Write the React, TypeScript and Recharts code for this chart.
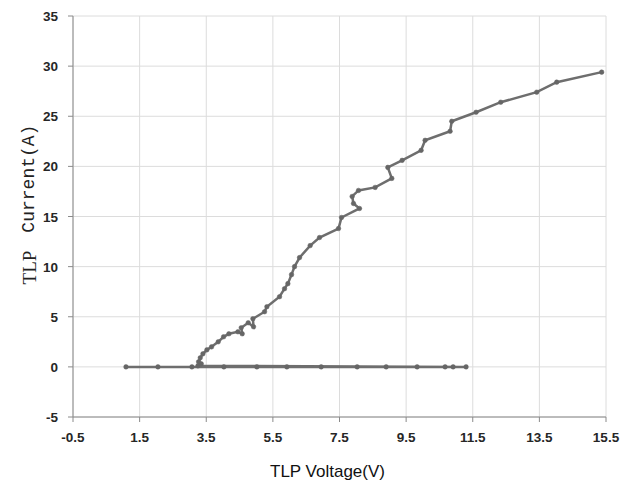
import { CartesianGrid, Line, LineChart, XAxis, YAxis, Label } from 'recharts'

// TLP sweep: off-state leakage points, then the snapback branch climbing up
const voltage = [
  1.09, 2.05, 3.07, 4.03, 5.02, 5.92, 6.95, 8.03, 8.9, 9.83, 10.67, 10.91, 11.3,
  3.25, 3.35, 3.27, 3.32, 3.4, 3.52, 3.66, 3.86, 4.02, 4.18, 4.45, 4.58, 4.55, 4.76, 4.92, 4.9,
  5.25, 5.32, 5.7, 5.85, 5.95, 6.06, 6.15, 6.3, 6.62, 6.9, 7.47, 7.56, 8.1, 7.92, 7.88, 8.07,
  8.57, 9.07, 8.95, 9.38, 9.95, 10.07, 10.82, 10.87, 11.6, 12.34, 13.42, 14.02, 15.37,
]
const current = [
  0, 0, 0, 0, 0, 0, 0, 0, 0, 0, 0, 0, 0,
  0.1, 0.3, 0.5, 0.9, 1.3, 1.7, 2.0, 2.5, 3.0, 3.3, 3.5, 3.3, 3.9, 4.4, 4.0, 4.8,
  5.5, 6.0, 7.0, 7.8, 8.3, 9.2, 10.0, 10.9, 12.1, 12.9, 13.8, 14.9, 15.8, 16.3, 17.0, 17.6,
  17.9, 18.8, 19.9, 20.6, 21.6, 22.6, 23.5, 24.5, 25.4, 26.4, 27.4, 28.4, 29.4,
]
const xTicks = [-0.5, 1.5, 3.5, 5.5, 7.5, 9.5, 11.5, 13.5, 15.5]
const yTicks = [-5, 0, 5, 10, 15, 20, 25, 30, 35]

const data = voltage.map((v, i) => ({ v, a: current[i] }))

const tickFont = 'Liberation Sans, Arial, sans-serif'

const XTick = (props: any) => {
  const { x, y, payload } = props
  return (
    <text x={x} y={y + 14} textAnchor="middle" fontSize={13.5} fontWeight={700} fill="#262626" fontFamily={tickFont}>
      {Number(payload.value).toFixed(1)}
    </text>
  )
}

const YTick = (props: any) => {
  const { x, y, payload } = props
  return (
    <text x={x - 6} y={y + 5} textAnchor="end" fontSize={13.5} fontWeight={700} fill="#262626" fontFamily={tickFont}>
      {payload.value}
    </text>
  )
}

const YTitle = (props: any) => {
  const vb = props.viewBox || {}
  const cy = (vb.y ?? 16) + (vb.height ?? 400) / 2 - 12
  return (
    <text
      x={29}
      y={cy}
      transform={`rotate(-90, 29, ${cy})`}
      textAnchor="middle"
      dominantBaseline="central"
      fontSize={19}
      fill="#222"
      fontFamily="Liberation Serif, serif"
    >
      <tspan>TLP</tspan>
      <tspan dx={18} fontFamily="Liberation Mono, monospace" fontSize={18}>Current(A)</tspan>
    </text>
  )
}

export default function App() {
  return (
    <div style={{ position: 'absolute', left: 0, top: 0, width: 622, height: 497, background: '#fff' }}>
      <LineChart width={622} height={497} data={data} margin={{ top: 16, right: 16, left: 0, bottom: 0 }}>
        <CartesianGrid stroke="#dcdcdc" strokeWidth={1} />
        <XAxis
          dataKey="v"
          type="number"
          domain={[-0.5, 15.5]}
          ticks={xTicks}
          interval={0}
          height={80}
          stroke="#8a8a8a"
          tickSize={5}
          tickMargin={6}
          tick={<XTick />}
        >
          <Label
            value="TLP Voltage(V)"
            position="insideBottom"
            offset={20}
            dx={-12}
            style={{ fontSize: 17, fill: '#111', fontFamily: 'Liberation Sans, Arial, sans-serif' }}
          />
        </XAxis>
        <YAxis
          dataKey="a"
          type="number"
          domain={[-5, 35]}
          ticks={yTicks}
          interval={0}
          width={73}
          stroke="#8a8a8a"
          tickSize={5}
          tickMargin={4}
          tick={<YTick />}
        >
          <Label content={<YTitle />} />
        </YAxis>
        <Line
          dataKey="a"
          type="linear"
          stroke="#6e6e6e"
          strokeWidth={2.5}
          dot={{ r: 2.3, fill: '#666', stroke: '#666', strokeWidth: 0.5 }}
          isAnimationActive={false}
        />
      </LineChart>
    </div>
  )
}
